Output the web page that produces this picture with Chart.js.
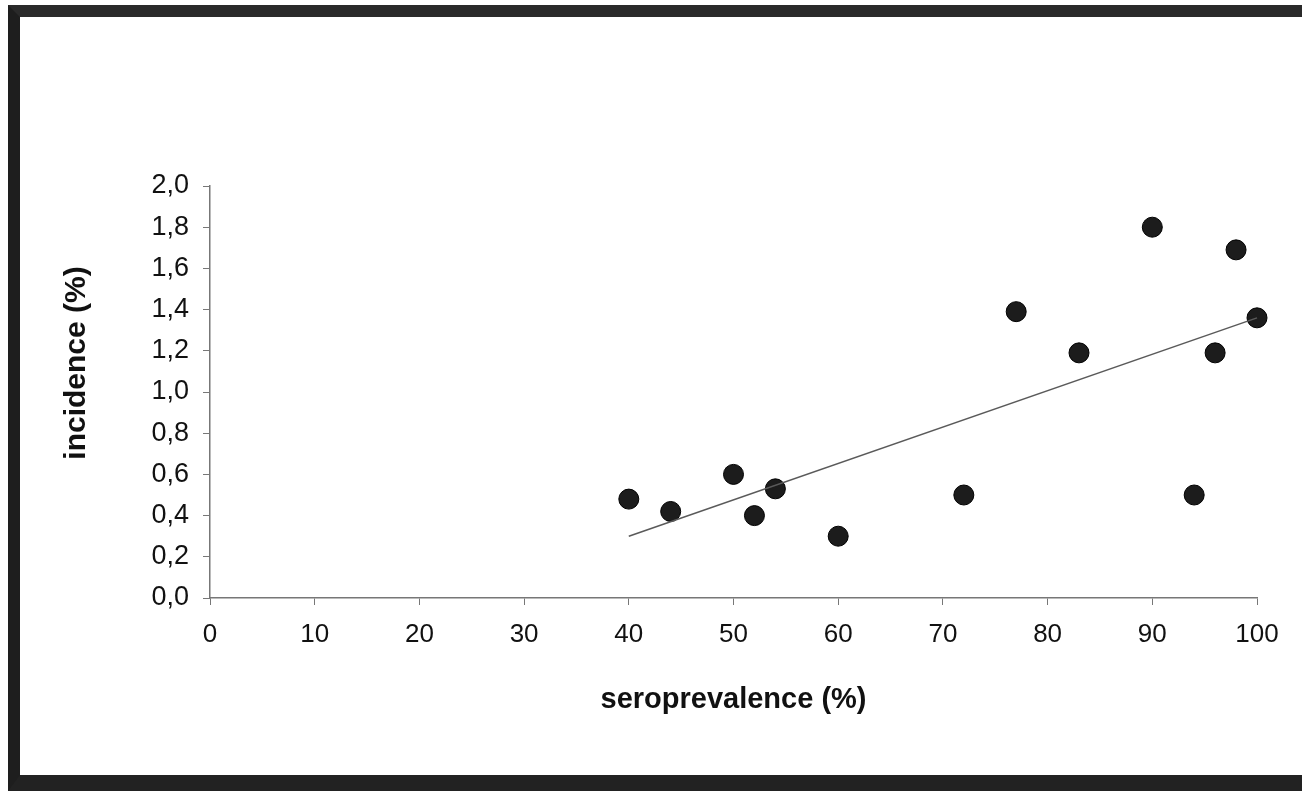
<!DOCTYPE html>
<html>
<head>
<meta charset="utf-8">
<script src="https://cdn.jsdelivr.net/npm/chart.js@4"></script>
<style>
  html, body { margin: 0; padding: 0; background: #fff; }
  body { width: 1302px; height: 791px; position: relative; overflow: hidden; }
  #frame {
    position: absolute; left: 8px; top: 5px; width: 1320px; height: 758px;
    border-left: 12px solid #1e1e1e; border-top: 12px solid #2a2a2a; border-bottom: 16px solid #222;
  }
  #wrap { position: absolute; left: 0; top: 0; width: 1302px; height: 791px; }
</style>
</head>
<body>
<div id="frame"></div>
<div id="wrap"><canvas id="chart"></canvas></div>
<script>
// seroprevalence (%) vs incidence (%)
const seroprevalence = [40, 44, 50, 52, 54, 60, 72, 77, 83, 90, 94, 96, 98, 100];
const incidence = [0.48, 0.42, 0.60, 0.40, 0.53, 0.30, 0.50, 1.39, 1.19, 1.80, 0.50, 1.19, 1.69, 1.36];
// trend line end points
const trendX = [40, 100];
const trendY = [0.30, 1.36];
const xTitle = 'seroprevalence (%)';
const yTitle = 'incidence (%)';

const points = seroprevalence.map((x, i) => ({x: x, y: incidence[i]}));
const trend = trendX.map((x, i) => ({x: x, y: trendY[i]}));

const font = "Arial, 'Liberation Sans', sans-serif";

// y title sits a bit above the middle of the axis in the original
const yTitlePlugin = {
  id: 'yTitle',
  afterDraw(chart) {
    const ctx = chart.ctx;
    ctx.save();
    ctx.translate(77, 363);
    ctx.rotate(-Math.PI / 2);
    ctx.font = 'bold 30px ' + font;
    ctx.fillStyle = '#111';
    ctx.textAlign = 'center';
    ctx.textBaseline = 'middle';
    ctx.fillText(yTitle, 0, 0);
    ctx.restore();
  }
};

new Chart(document.getElementById('chart'), {
  type: 'scatter',
  data: {
    datasets: [
      {
        type: 'line',
        data: trend,
        borderColor: '#5a5a5a',
        borderWidth: 1.5,
        pointRadius: 0,
        fill: false,
        clip: false
      },
      {
        data: points,
        backgroundColor: '#1c1c1c',
        borderColor: '#000',
        borderWidth: 1,
        pointRadius: 10,
        pointHoverRadius: 10,
        clip: false
      }
    ]
  },
  options: {
    responsive: true,
    maintainAspectRatio: false,
    animation: false,
    layout: { padding: { left: 50, right: 45, top: 186, bottom: 60 } },
    plugins: { legend: { display: false }, tooltip: { enabled: false } },
    scales: {
      x: {
        type: 'linear',
        min: 0, max: 100,
        afterFit: s => { s.height = 133; },
        ticks: { stepSize: 10, color: '#111', padding: 14, font: { family: font, size: 26 } },
        grid: { drawOnChartArea: false, tickLength: 7, color: '#777' },
        border: { color: '#777', width: 1.5 },
        title: {
          display: true, text: xTitle, color: '#111',
          font: { family: font, size: 29, weight: 'bold' },
          padding: { top: 0, bottom: 14 }
        }
      },
      y: {
        min: 0, max: 2,
        afterFit: s => { s.width = 160; },
        ticks: {
          stepSize: 0.2, color: '#111', padding: 14,
          font: { family: font, size: 27 },
          callback: v => v.toFixed(1).replace('.', ',')
        },
        grid: { drawOnChartArea: false, tickLength: 7, color: '#777' },
        border: { color: '#777', width: 1.5 },
        title: { display: false }
      }
    }
  },
  plugins: [yTitlePlugin]
});
</script>
</body>
</html>
